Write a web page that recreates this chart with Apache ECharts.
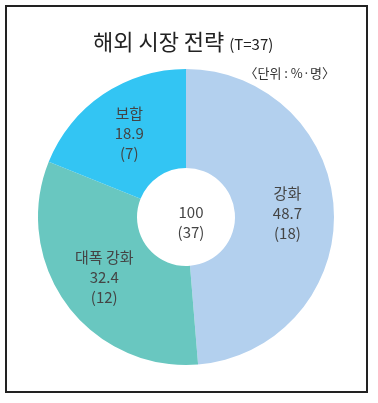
<!DOCTYPE html>
<html><head><meta charset="utf-8">
<script src="https://cdn.jsdelivr.net/npm/echarts@6/dist/echarts.min.js"></script>
<style>html,body{margin:0;padding:0;background:#fff}#c{width:378px;height:403px}</style>
</head><body><div id="c"></div>
<script>
var categories = ['강화', '대폭 강화', '보합'];
var percents = [48.7, 32.4, 18.9];
var counts = [18, 12, 7];
var colors = ['#b3d0ee', '#69c7c0', '#33c5f3'];
var totalPercent = 100;
var totalCount = 37;

var font = "'Noto Sans CJK KR', 'Noto Sans', sans-serif";
var chart = echarts.init(document.getElementById('c'));
chart.setOption({
  animation: false,
  title: [{
    text: '해외 시장 전략 {s|(T=37)}',
    left: 88, top: 26,
    textStyle: { fontFamily: font, fontSize: 22, fontWeight: 'normal', color: '#222',
      rich: { s: { fontFamily: font, fontSize: 15, color: '#222', padding: [4,0,0,0] } } }
  }, {
    text: '〈단위 : %·명〉',
    right: 38, top: 62,
    textStyle: { fontFamily: font, fontSize: 13, fontWeight: 'normal', color: '#333' }
  }, {
    text: totalPercent + '\n(' + totalCount + ')',
    left: 186, top: 217, textAlign: 'center', textVerticalAlign: 'middle',
    textStyle: { fontFamily: font, fontSize: 15, fontWeight: 'normal', color: '#444', lineHeight: 20 }
  }],
  graphic: [{
    type: 'rect', shape: { x: 6, y: 6, width: 361, height: 386 },
    style: { fill: 'none', stroke: '#222', lineWidth: 2 }, silent: true, z: 0
  }],
  series: [{
    type: 'pie',
    center: [186, 217],
    radius: [49, 148],
    startAngle: 90,
    clockwise: true,
    data: categories.map(function (c, i) {
      return { name: c, value: percents[i], itemStyle: { color: colors[i] } };
    }),
    label: {
      show: true, position: 'inside',
      fontFamily: font, fontSize: 15, color: '#444', lineHeight: 20,
      formatter: function (p) { return p.name + '\n' + p.value + '\n(' + counts[p.dataIndex] + ')'; }
    },
    labelLine: { show: false },
    itemStyle: { borderWidth: 0 }
  }]
});
</script></body></html>
